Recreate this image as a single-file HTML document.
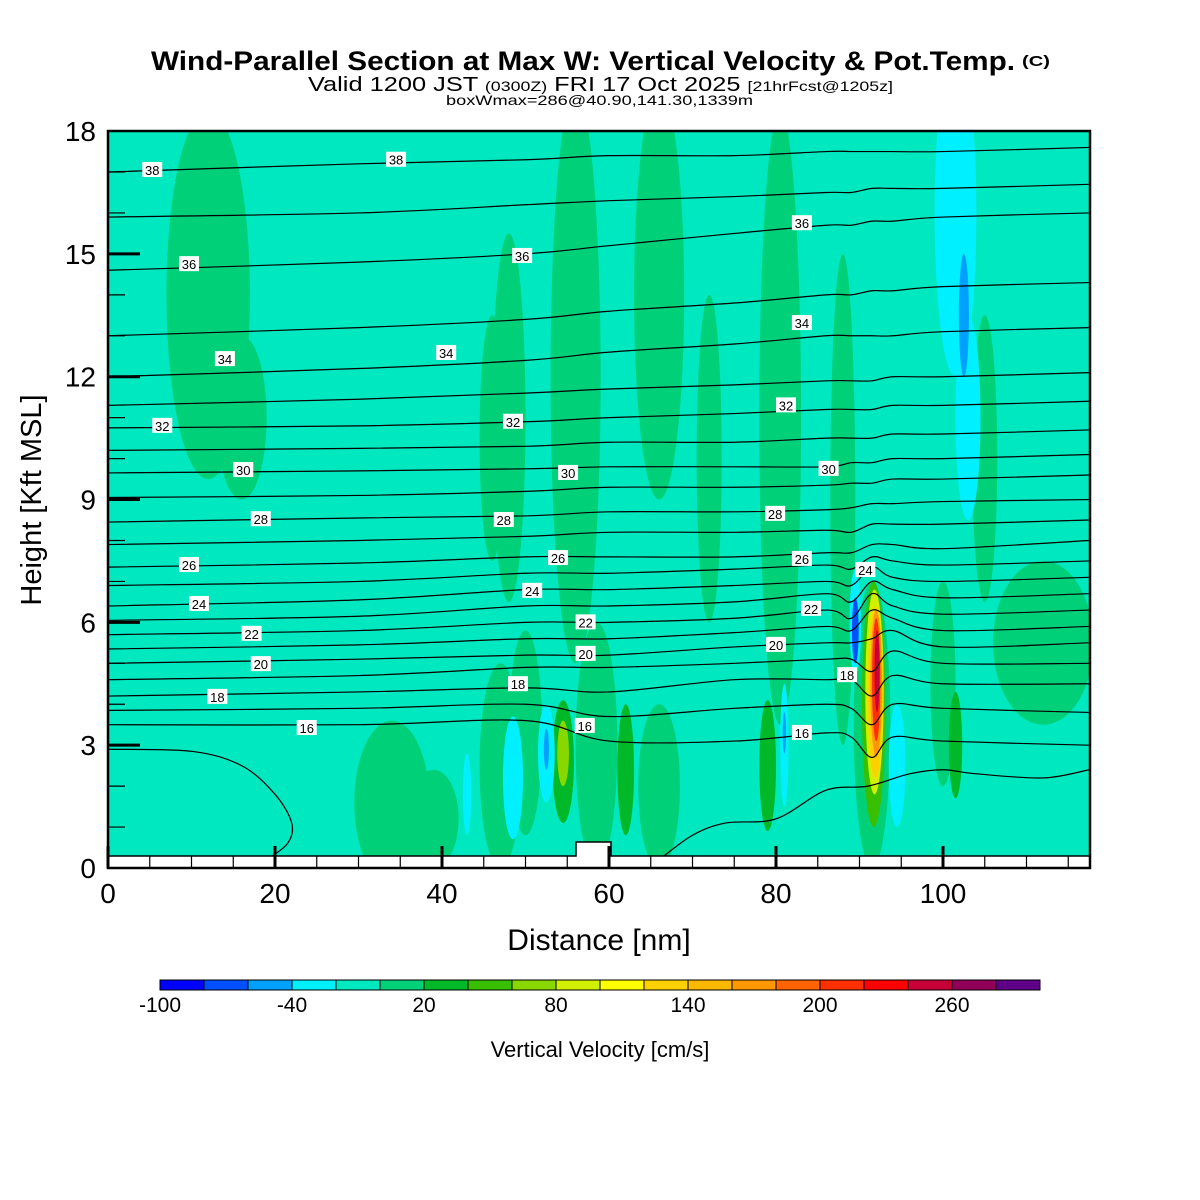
<!DOCTYPE html>
<html><head><meta charset="utf-8"><style>
html,body{margin:0;padding:0;background:#fff}
svg{display:block;font-family:"Liberation Sans",sans-serif}
</style></head><body>
<svg id="chart" width="1200" height="1200" viewBox="0 0 1200 1200" xmlns="http://www.w3.org/2000/svg">
<defs><clipPath id="plotclip"><rect x="108" y="131" width="982" height="737"/></clipPath></defs>
<g>
<text x="151" y="70" font-size="27" font-weight="bold" textLength="864" lengthAdjust="spacingAndGlyphs">Wind-Parallel Section at Max W: Vertical Velocity &amp; Pot.Temp.</text>
<text x="1022" y="66" font-size="15" font-weight="bold" textLength="28" lengthAdjust="spacingAndGlyphs">(C)</text>
<text x="308" y="91" font-size="20" textLength="585" lengthAdjust="spacingAndGlyphs">Valid 1200 JST <tspan font-size="14">(0300Z)</tspan> FRI 17 Oct 2025 <tspan font-size="14">[21hrFcst@1205z]</tspan></text>
<text x="446" y="105" font-size="14" textLength="307" lengthAdjust="spacingAndGlyphs">boxWmax=286@40.90,141.30,1339m</text>
</g>
<rect x="108" y="131" width="982" height="737" fill="#00e8c0"/>
<g id="field" clip-path="url(#plotclip)"></g>
<g id="contours" clip-path="url(#plotclip)"></g>
<g id="ground"></g>
<g id="clabels"></g>
<rect x="108" y="131" width="982" height="737" fill="none" stroke="#000" stroke-width="2.5"/>
<g id="axes"></g>
<text transform="translate(41,500) rotate(-90)" text-anchor="middle" font-size="29">Height [Kft MSL]</text>
<text x="599" y="950" text-anchor="middle" font-size="30">Distance [nm]</text>
<g id="cbar"></g>
<text x="600" y="1057" text-anchor="middle" font-size="22">Vertical Velocity [cm/s]</text>
</svg>
<script>
// colour scale
const binColors = ["#0000ff","#0050ff","#00a0ff","#00f0ff","#00e8c0","#00d078","#00b828","#38c000","#88d800","#d0f000","#ffff00","#ffd000","#ffb800","#ff9800","#ff6400","#ff3000","#ff0000","#c80038","#900058","#600088"];
const cbarTicks = [-100,-40,20,80,140,200,260];
const xTicks = [0,20,40,60,80,100];
const yTicks = [0,3,6,9,12,15,18];

// vertical velocity features: centre x [nm], centre z [kft], half-width [nm], half-height [kft], w [cm/s]
const wX  = [12, 16, 34, 39, 48, 56, 66, 72, 80.5, 88, 47, 58.5, 66, 112, 46, 100, 105, 50, 54.5, 62, 79, 101.5, 91.5, 91.7, 91.8, 91.9, 92, 92, 92.1, 54.5, 101.5, 103, 94.5, 48.5, 52.5, 43, 81, 89.5, 102.5, 52.5, 89.5, 81];
const wZ  = [14, 11, 1.6, 1.2, 11, 12, 14, 10, 11, 9, 2.5, 3, 2, 5.5, 10.5, 4.5, 10, 3.3, 2.6, 2.4, 2.5, 3, 3.5, 4, 4.3, 4.3, 4.5, 4.6, 4.8, 2.8, 16, 11, 2.5, 2.2, 2.8, 1.8, 3, 6, 13.5, 2.9, 5.8, 3.3];
const wRx = [5, 3, 4.5, 3, 2, 3, 3, 1.5, 2.5, 1.5, 2.5, 2.5, 2.5, 6, 1.5, 1.5, 1.5, 2, 1.3, 1, 1, 0.8, 2.2, 1.4, 1.1, 0.9, 0.7, 0.5, 0.3, 0.7, 2.5, 1.5, 1, 1.2, 1, 0.5, 0.5, 0.7, 0.6, 0.3, 0.4, 0.2];
const wRz = [4.5, 2, 2, 1.2, 4.5, 7, 5, 4, 7.5, 6, 2.5, 3, 2, 2, 3, 2.5, 3.5, 2.5, 1.5, 1.6, 1.6, 1.3, 3.5, 3, 2.5, 2.1, 1.8, 1.5, 1.0, 0.8, 4, 2.5, 1.5, 1.5, 1.2, 1, 1.5, 1.3, 1.5, 0.5, 0.8, 0.5];
const wVal= [10, 10, 10, 10, 10, 10, 10, 10, 10, 10, 10, 10, 10, 10, 10, 10, 10, 10, 30, 30, 30, 30, 10, 50, 90, 130, 170, 210, 250, 70, -30, -30, -30, -30, -30, -30, -30, -30, -50, -50, -70, -50];

// potential temperature isentropes sampled at stations
const thetaStations = [0, 30, 50, 60, 75, 86, 89, 91.5, 94, 100, 117.5];
const thetaLevels = [16,17,18,19,20,21,22,23,24,25,26,27,28,29,30,31,32,33,34,35,36,37,38];
const thetaHeights = [
[3.5,3.5,3.6,3.1,3.1,3.3,3.2,2.7,3.2,3.1,3.0],
[3.85,3.9,4.0,3.7,3.9,4.0,3.9,3.5,4.0,3.9,3.8],
[4.2,4.3,4.4,4.3,4.6,4.6,4.6,4.2,4.7,4.5,4.5],
[4.6,4.7,4.9,4.9,5.0,5.1,5.1,4.8,5.3,5.0,5.0],
[5.0,5.1,5.2,5.2,5.4,5.5,5.5,5.6,5.8,5.4,5.5],
[5.35,5.45,5.6,5.6,5.75,5.9,5.8,6.3,6.1,5.8,5.9],
[5.7,5.8,6.0,6.0,6.1,6.3,6.1,6.7,6.4,6.2,6.3],
[6.05,6.15,6.4,6.4,6.5,6.7,6.5,7.0,6.8,6.6,6.7],
[6.4,6.55,6.8,6.8,6.9,7.0,6.9,7.35,7.1,7.0,7.1],
[6.9,7.0,7.2,7.2,7.3,7.4,7.3,7.6,7.5,7.4,7.5],
[7.35,7.45,7.6,7.6,7.6,7.7,7.7,7.9,7.9,7.8,8.0],
[7.9,8.0,8.1,8.2,8.2,8.25,8.2,8.4,8.4,8.4,8.5],
[8.45,8.55,8.6,8.7,8.7,8.75,8.8,8.9,8.9,8.95,9.0],
[9.05,9.1,9.2,9.3,9.3,9.35,9.4,9.4,9.5,9.5,9.6],
[9.65,9.7,9.75,9.8,9.8,9.8,9.9,9.9,10.0,10.0,10.1],
[10.2,10.25,10.3,10.4,10.4,10.5,10.5,10.5,10.6,10.6,10.7],
[10.75,10.8,10.9,11.0,11.1,11.2,11.2,11.2,11.3,11.3,11.4],
[11.3,11.45,11.6,11.7,11.8,11.9,11.9,11.9,12.0,12.0,12.1],
[12.0,12.2,12.4,12.6,12.8,13.0,13.0,13.0,13.0,13.1,13.2],
[13.0,13.2,13.4,13.6,13.8,14.0,14.0,14.1,14.1,14.2,14.3],
[14.6,14.8,15.0,15.2,15.5,15.7,15.7,15.8,15.8,15.9,16.0],
[15.9,16.0,16.2,16.3,16.4,16.5,16.5,16.6,16.6,16.6,16.7],
[17.0,17.2,17.3,17.4,17.4,17.5,17.5,17.5,17.5,17.5,17.6]
];
const lowLineAX = [0, 10, 16, 20, 22, 21.5, 19];
const lowLineAZ = [2.9, 2.85, 2.5, 1.8, 1.1, 0.6, 0.2];
const lowLineBX = [66, 70, 74, 80, 86, 91, 96, 100, 104, 112, 117.5];
const lowLineBZ = [0.2, 0.8, 1.1, 1.2, 1.9, 2.0, 2.3, 2.4, 2.3, 2.2, 2.4];

// contour labels: level, x [nm], z [kft]
const labLevel = [38,38,36,36,36,34,34,34,32,32,32,30,30,30,28,28,28,26,26,26,24,24,24,22,22,22,20,20,20,18,18,18,16,16,16];
const labX = [5.3,34.5,9.7,49.6,83.1,14,40.5,83.1,6.5,48.5,81.2,16.2,55.1,86.3,18.3,47.4,79.9,9.7,53.9,83.1,10.9,50.8,90.7,17.2,57.2,84.2,18.3,57.2,80,13.1,49.1,88.5,23.8,57.1,83.1];
const labZ = [17.05,17.3,14.75,14.95,15.75,12.43,12.58,13.31,10.8,10.9,11.3,9.72,9.65,9.75,8.52,8.5,8.65,7.4,7.57,7.55,6.45,6.77,7.28,5.72,6.0,6.33,4.98,5.23,5.45,4.18,4.49,4.71,3.42,3.47,3.3];

const NS = "http://www.w3.org/2000/svg";
const X = nm => 108 + nm * 8.35;
const Y = k => 868 - k * 40.94;
const colorOf = w => binColors[Math.max(0, Math.min(19, Math.floor((w + 100) / 20)))];
function mk(tag, attrs, parent){ const e=document.createElementNS(NS,tag); for(const k in attrs) e.setAttribute(k,attrs[k]); parent.appendChild(e); return e; }

const field = document.getElementById('field');
for (let i = 0; i < wX.length; i++) {
  const el = mk('ellipse', {cx: X(wX[i]), cy: Y(wZ[i]), rx: wRx[i]*8.35, ry: wRz[i]*40.94, fill: colorOf(wVal[i])}, field);
  
  
}

function smoothPath(xs, zs){
  const p = xs.map((x,i)=>[X(x),Y(zs[i])]);
  let d = `M${p[0][0]},${p[0][1]}`;
  for (let i=0;i<p.length-1;i++){
    const p0=p[Math.max(0,i-1)], p1=p[i], p2=p[i+1], p3=p[Math.min(p.length-1,i+2)];
    const c1=[p1[0]+(p2[0]-p0[0])/6, p1[1]+(p2[1]-p0[1])/6];
    const c2=[p2[0]-(p3[0]-p1[0])/6, p2[1]-(p3[1]-p1[1])/6];
    d += ` C${c1[0]},${c1[1]} ${c2[0]},${c2[1]} ${p2[0]},${p2[1]}`;
  }
  return d;
}
const cg = document.getElementById('contours');
thetaLevels.forEach((lev, i) => {
  const el = mk('path', {d: smoothPath(thetaStations, thetaHeights[i]), fill:'none', stroke:'#000', 'stroke-width':1.2}, cg);
  
  
});
const la = mk('path', {d: smoothPath(lowLineAX, lowLineAZ), fill:'none', stroke:'#000', 'stroke-width':1.2}, cg);


const lb = mk('path', {d: smoothPath(lowLineBX, lowLineBZ), fill:'none', stroke:'#000', 'stroke-width':1.2}, cg);



const gg = document.getElementById('ground');
const gr = mk('path', {d:`M108,856 L576,856 L576,842 L611,842 L611,856 L1090,856 L1090,868 L108,868 Z`, fill:'#fff', stroke:'#000', 'stroke-width':1.5}, gg);


for (let nm = 5; nm < 117.5; nm += 5) {
  const t = mk('line', {x1:X(nm), x2:X(nm), y1:856, y2:868, stroke:'#000', 'stroke-width':1.2}, gg);
  
  
}

const lg = document.getElementById('clabels');
labLevel.forEach((lev,i)=>{
  const g = mk('g', {}, lg);
  
  
  mk('rect', {x:X(labX[i])-10, y:Y(labZ[i])-8, width:20, height:15, fill:'#fff'}, g);
  const t = mk('text', {x:X(labX[i]), y:Y(labZ[i])+5, 'text-anchor':'middle', 'font-size':13}, g);
  t.textContent = lev;
});

const ax = document.getElementById('axes');
xTicks.forEach(v=>{
  const l = mk('line', {x1:X(v), x2:X(v), y1:846, y2:868, stroke:'#000', 'stroke-width':3}, ax);
  
  
  const t = mk('text', {x:X(v), y:903, 'text-anchor':'middle', 'font-size':28}, ax);
  
  
  t.textContent = v;
});
for (let k = 1; k < 18; k++) {
  const major = k % 3 === 0;
  const l = mk('line', {x1:108, x2: major ? 140 : 125, y1:Y(k), y2:Y(k), stroke:'#000', 'stroke-width': major ? 3 : 1.2}, ax);
  
  
}
yTicks.forEach(v=>{
  const t = mk('text', {x:96, y:Y(v)+10, 'text-anchor':'end', 'font-size':28}, ax);
  
  
  t.textContent = v;
});

const cb = document.getElementById('cbar');
binColors.forEach((c,i)=>{
  const r = mk('rect', {x:160+i*44, y:980, width:44, height:10, fill:c, stroke:'#000', 'stroke-width':1}, cb);
  
  
});
cbarTicks.forEach(v=>{
  const t = mk('text', {x:160 + (v+100)/20*44, y:1012, 'text-anchor':'middle', 'font-size':21}, cb);
  
  
  t.textContent = v;
});
</script>
</body></html>
